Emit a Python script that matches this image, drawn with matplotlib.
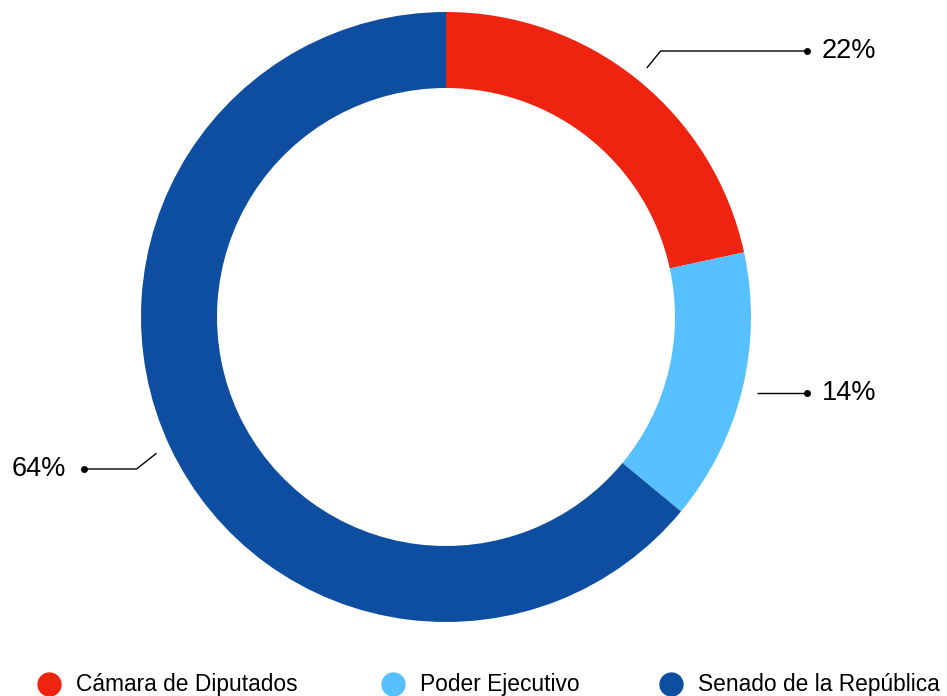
import numpy as np
import matplotlib.pyplot as plt

# datos del grafico
categorias = ["Cámara de Diputados", "Poder Ejecutivo", "Senado de la República"]
porcentajes = [21.6, 14.4, 64.0]
colores = ["#EF2410", "#56C1FE", "#0E4EA1"]
etiquetas = [f"{p:.0f}%" for p in porcentajes]

plt.rcParams['font.family'] = ['Liberation Sans', 'DejaVu Sans']

W, H = 947, 696
fig = plt.figure(figsize=(W / 100, H / 100), dpi=100)
ax = fig.add_axes([0, 0, 1, 1])

# trabajamos en pixeles con y hacia arriba
cx, cy = 446, H - 317
radio = 305

wedges, _ = ax.pie(porcentajes, colors=colores, startangle=90, counterclock=False,
                   radius=radio, center=(cx, cy),
                   wedgeprops=dict(width=76, linewidth=0))

# posiciones de las etiquetas (y en pixeles de la imagen)
label_y = [51, 393, 469]
dot_x = {1: 807, -1: 84}

for w, txt, ly in zip(wedges, etiquetas, label_y):
    ang = np.deg2rad((w.theta1 + w.theta2) / 2)
    lado = 1 if np.cos(ang) > 0 else -1
    x0, y0 = cx + 320 * np.cos(ang), cy + 320 * np.sin(ang)
    x1 = cx + 342 * np.cos(ang)
    y1 = H - ly
    if abs(y0 - y1) < 10:
        # casi horizontal: linea recta
        y0 = y1
    x2 = dot_x[lado]
    ax.plot([x0, x1, x2], [y0, y1, y1], color='black', lw=1, solid_capstyle='butt')
    ax.plot(x2, y1, 'o', color='black', ms=4)
    if lado == 1:
        ax.text(x2 + 15, y1, txt, fontsize=19.5, ha='left', va='center')
    else:
        ax.text(x2 - 18, y1, txt, fontsize=19.5, ha='right', va='center')

# leyenda manual
ley_x = [49, 393, 671]
ley_y = H - 684
for x, c, nombre in zip(ley_x, colores, categorias):
    ax.plot(x, ley_y, 'o', color=c, ms=16.5)
    ax.text(x + 27, ley_y - 1, nombre, fontsize=16.4, ha='left', va='center')

ax.set_xlim(0, W)
ax.set_ylim(0, H)
ax.set_aspect('auto')
ax.axis('off')

fig.savefig('out.png', dpi=100)
